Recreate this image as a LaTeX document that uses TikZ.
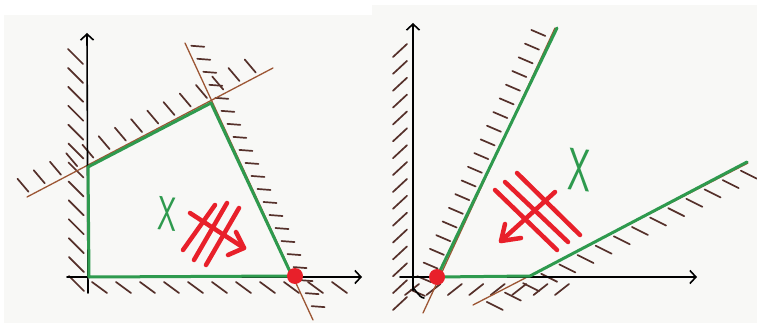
\documentclass[tikz,border=0pt]{standalone}
\usetikzlibrary{calc,arrows.meta}
\definecolor{paper}{HTML}{F8F8F6}
\definecolor{brn}{HTML}{9C5634}
\definecolor{hatchc}{HTML}{55302A}
\definecolor{grn}{HTML}{2E9A4E}
\definecolor{rd}{HTML}{E8202A}
\tikzset{
  axisline/.style={black, line width=1.6pt, line cap=round, -{Straight Barb[length=6pt,width=13pt]}},
  constraint/.style={brn, line width=1.3pt, line cap=round},
  feasedge/.style={grn, line width=3pt, line join=round, line cap=round},
  hatchstroke/.style={hatchc, line width=1.7pt, line cap=round},
  redstroke/.style={rd, line width=4.5pt, line cap=round, line join=round},
  setlabel/.style={grn, font=\sffamily\fontsize{48}{48}\selectfont, inner sep=0pt},
  optdot/.style={circle, fill=rd, minimum size=16pt, inner sep=0pt}
}
\begin{document}
\begin{tikzpicture}[x=1pt,y=-1pt]
\useasboundingbox (0,0) rectangle (757,323);
\fill[white] (0,0) rectangle (757,323);
\fill[paper] (4,15) rectangle (372,323);
\fill[paper] (372,5) rectangle (757,323);

%%%%%%%%%%%%%%%% LEFT PANEL %%%%%%%%%%%%%%%%
\coordinate (LyB) at (88,293);
\coordinate (LyT) at (87,33);
\coordinate (LxL) at (67,277);
\coordinate (LxR) at (362,277);
\coordinate (L1a) at (27,197);
\coordinate (L1b) at (273,68);
\coordinate (L2a) at (185,43);
\coordinate (L2b) at (313,320);
\coordinate (P1) at (89,277);
\coordinate (P2) at (88,167);
\coordinate (P3) at (211,103);
\coordinate (P4) at (292,276);

% hatches
\foreach \i [evaluate=\i as \t using \i/12] in {0,...,12}
  \draw[hatchstroke] ($(88,64)!\t!(89,291)$) ++(-20,-15) -- ++(15,15);
\foreach \i [evaluate=\i as \t using \i/10] in {0,...,10}
  \draw[hatchstroke] ($(92,277)!\t!(332,277)$) ++(0,5) -- ++(15,11);
\foreach \i [evaluate=\i as \t using 0.01+\i*0.066] in {0,...,14}
  \draw[hatchstroke] ($(L1a)!\t!(L1b)$) ++(-12,-17) -- ++(11,13);
\foreach \i [evaluate=\i as \t using 0.01+\i*0.047] in {0,...,20}
  \draw[hatchstroke] ($(L2a)!\t!(L2b)$) ++(5,0) -- ++(13,1);

\draw[constraint] (L1a) -- (L1b);
\draw[constraint] (L2a) -- (L2b);
\draw[axisline] (LyB) -- (LyT);
\draw[axisline] (LxL) -- (LxR);
\draw[feasedge] (P1) -- (P2) -- (P3) -- (P4) -- cycle;

\node[setlabel, xscale=0.62, rotate=-4] (XL) at (167,214) {X};

% red arrow (left)
\draw[redstroke] (183,250) -- (215,205);
\draw[redstroke] (194,260) -- (227,203);
\draw[redstroke] (206,265) -- (239,208);
\coordinate (LarS) at (190,213);
\coordinate (LarT) at (244,248);
\draw[redstroke] (LarS) -- (LarT);
\draw[redstroke] (236,232) -- (LarT) -- (228,255);

\node[optdot] (DL) at (295,276) {};

%%%%%%%%%%%%%%%% RIGHT PANEL %%%%%%%%%%%%%%%%
\coordinate (RyB) at (413,290);
\coordinate (RyT) at (413,23);
\coordinate (RxL) at (400,277);
\coordinate (RxR) at (697,277);
\coordinate (L3a) at (423,313);
\coordinate (L3b) at (555,28);
\coordinate (L4a) at (473,305);
\coordinate (L4b) at (748,163);
\coordinate (Q0) at (437,277);
\coordinate (Q1) at (557,28);
\coordinate (Q2) at (530,276);
\coordinate (Q3) at (747,162);

\foreach \i [evaluate=\i as \t using \i/15] in {0,...,15}
  \draw[hatchstroke] ($(413,50)!\t!(413,303)$) ++(-20,7) -- ++(14,-13);
\foreach \i [evaluate=\i as \t using \i/7] in {0,...,7}
  \draw[hatchstroke] ($(405,277)!\t!(555,277)$) ++(0,18) -- ++(14,-11);
\foreach \i [evaluate=\i as \t using 0.06+\i*0.048] in {0,...,19}
  \draw[hatchstroke] ($(L3a)!\t!(L3b)$) ++(-20,-6) -- ++(14,6);
\foreach \i [evaluate=\i as \t using 0.05+\i*0.066] in {0,...,14}
  \draw[hatchstroke] ($(L4a)!\t!(L4b)$) ++(0,4) -- ++(16,8);

\draw[constraint] (L3a) -- (L3b);
\draw[constraint] (L4a) -- (L4b);
\draw[black, line width=1.6pt, line cap=round] (RyB) to[out=90,in=180] (424,298);
\draw[axisline] (RyB) -- (RyT);
\draw[axisline] (RxL) -- (RxR);
\draw[feasedge] (Q1) -- (Q0) -- (Q2) -- (Q3);

\node[setlabel, font=\sffamily\fontsize{60}{60}\selectfont, xscale=0.6, rotate=-4] (XR) at (580,170) {X};

% red arrow (right)
\draw[redstroke] (495,190) -- (557,250);
\draw[redstroke] (505,182) -- (568,242);
\draw[redstroke] (517,173) -- (580,235);
\coordinate (RarS) at (555,192);
\coordinate (RarT) at (501,241);
\draw[redstroke] (RarS) -- (RarT);
\draw[redstroke] (505,224) -- (RarT) -- (521,238);

\node[optdot] (DR) at (437,277) {};
\end{tikzpicture}
\end{document}
